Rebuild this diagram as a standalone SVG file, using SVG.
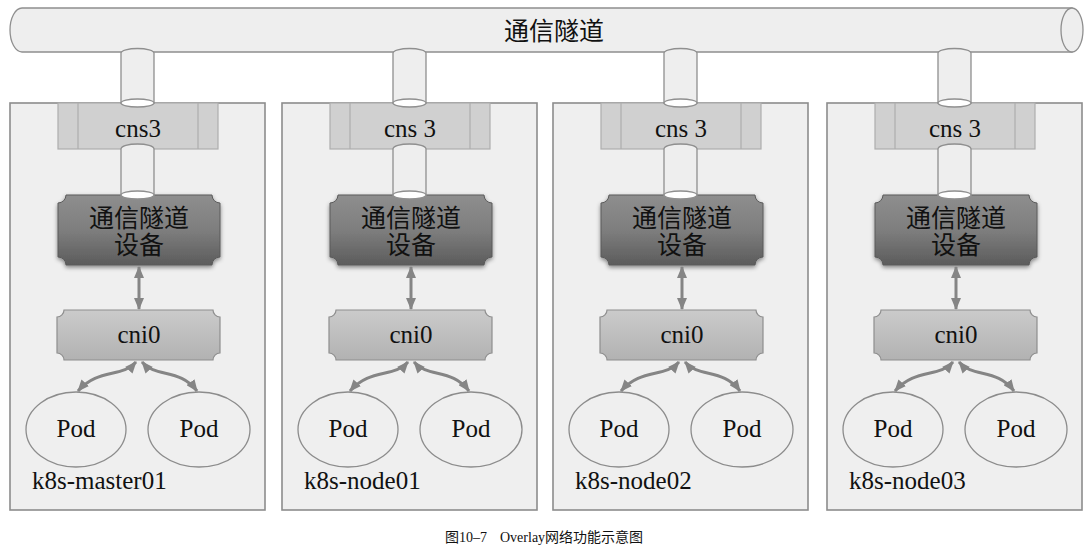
<svg xmlns="http://www.w3.org/2000/svg" width="1086" height="545" viewBox="0 0 1086 545">
<defs>
<style>
.box{fill:#efefef;stroke:#8c8c8c;stroke-width:1.6}
.cns{fill:#d0d0d0;stroke:#adadad;stroke-width:1.2}
.cnsl{stroke:#adadad;stroke-width:1.2}
.pipe{fill:#eeeeee;stroke:#8f8f8f;stroke-width:1.3}
.hole{fill:#ffffff;stroke:#8f8f8f;stroke-width:1.3}
.dev{fill:url(#gDev);stroke:#5a5a5a;stroke-width:1;filter:url(#sh)}
.cni{fill:url(#gCni);stroke:#8e8e8e;stroke-width:1.2}
.pod{fill:#efefef;stroke:#8c8c8c;stroke-width:1.3}
.lat{font-family:"Liberation Serif","Times New Roman",serif;fill:#111}
.cjk{font-family:"Noto Sans CJK SC","Noto Sans CJK JP",sans-serif;fill:#111}
.arr{fill:none;stroke:#858585;stroke-width:3;marker-start:url(#ah);marker-end:url(#ah)}
</style>
<linearGradient id="gDev" x1="0" y1="0" x2="0" y2="1">
<stop offset="0" stop-color="#8e8e8e"/>
<stop offset="0.5" stop-color="#7e7e7e"/>
<stop offset="1" stop-color="#5c5c5c"/>
</linearGradient>
<linearGradient id="gCni" x1="0" y1="0" x2="0" y2="1">
<stop offset="0" stop-color="#cbcbcb"/>
<stop offset="1" stop-color="#b2b2b2"/>
</linearGradient>
<filter id="sh" x="-10%" y="-10%" width="120%" height="130%">
<feDropShadow dx="0" dy="2" stdDeviation="2" flood-color="#000" flood-opacity="0.45"/>
</filter>
<marker id="ah" viewBox="0 0 12 10" refX="11" refY="5" markerWidth="12" markerHeight="10" markerUnits="userSpaceOnUse" orient="auto-start-reverse">
<path d="M0,0 L12,5 L0,10 Z" fill="#858585"/>
</marker>
<g id="nodeTpl">
<rect class="box" x="0" y="103" width="255" height="407"/>
<rect class="cns" x="48" y="103" width="160" height="46"/>
<line class="cnsl" x1="68" y1="103" x2="68" y2="149"/>
<line class="cnsl" x1="188" y1="103" x2="188" y2="149"/>
<path class="dev" d="M56,195 L202,195 A8,8 0 0 0 210,203 L210,257 A8,8 0 0 0 202,265 L56,265 A8,8 0 0 0 48,257 L48,203 A8,8 0 0 0 56,195 Z"/>
<path class="cni" d="M54,310 L203,310 A7,7 0 0 0 210,317 L210,353 A7,7 0 0 0 203,360 L54,360 A7,7 0 0 0 47,353 L47,317 A7,7 0 0 0 54,310 Z"/>
<text class="cjk" x="129" y="227" font-size="25" text-anchor="middle">通信隧道</text>
<text class="cjk" x="129" y="254" font-size="25" text-anchor="middle">设备</text>
<text class="lat" x="129" y="343" font-size="25" text-anchor="middle">cni0</text>
<ellipse class="pod" cx="66" cy="429.5" rx="50" ry="37.5"/>
<ellipse class="pod" cx="189" cy="429.5" rx="51" ry="37.5"/>
<text class="lat" x="66" y="437" font-size="25" text-anchor="middle">Pod</text>
<text class="lat" x="189" y="437" font-size="25" text-anchor="middle">Pod</text>
<path class="pipe" d="M111,53 A16.5,4.5 0 0 1 144,53 L144,103 L111,103 Z"/>
<ellipse class="hole" cx="127.5" cy="103" rx="16.5" ry="4"/>
<path class="pipe" d="M111,149 A16.5,5 0 0 1 144,149 L144,195 L111,195 Z"/>
<ellipse class="hole" cx="127.5" cy="195" rx="16.5" ry="4"/>
</g>
</defs>
<rect x="0" y="0" width="1086" height="545" fill="#ffffff"/>
<g id="tunnel">
<path class="pipe" d="M22,8 L1072,8 L1072,52 L22,52 A12,22 0 0 1 22,8 Z"/>
<ellipse class="pipe" cx="1072" cy="30" rx="11" ry="22"/>
<text class="cjk" x="554" y="40" font-size="25" text-anchor="middle">通信隧道</text>
</g>
<g id="node-master01" transform="translate(10,0)">
<use href="#nodeTpl"/>
<text class="lat" x="128" y="137" font-size="25" text-anchor="middle">cns3</text>
<text class="lat" x="22" y="489" font-size="25">k8s-master01</text>
</g>
<g id="node-node01" transform="translate(282,0)">
<use href="#nodeTpl"/>
<text class="lat" x="128" y="137" font-size="25" text-anchor="middle">cns 3</text>
<text class="lat" x="22" y="489" font-size="25">k8s-node01</text>
</g>
<g id="node-node02" transform="translate(553,0)">
<use href="#nodeTpl"/>
<text class="lat" x="128" y="137" font-size="25" text-anchor="middle">cns 3</text>
<text class="lat" x="22" y="489" font-size="25">k8s-node02</text>
</g>
<g id="node-node03" transform="translate(827,0)">
<use href="#nodeTpl"/>
<text class="lat" x="128" y="137" font-size="25" text-anchor="middle">cns 3</text>
<text class="lat" x="22" y="489" font-size="25">k8s-node03</text>
</g>
<g id="connectors">
<path class="arr" d="M139,267 L139,309"/>
<path class="arr" d="M136,362 C122,378 98,368 78,391"/>
<path class="arr" d="M142,362 C156,378 180,368 197,391"/>
<path class="arr" d="M411,267 L411,309"/>
<path class="arr" d="M408,362 C394,378 370,368 350,391"/>
<path class="arr" d="M414,362 C428,378 452,368 469,391"/>
<path class="arr" d="M682,267 L682,309"/>
<path class="arr" d="M679,362 C665,378 641,368 621,391"/>
<path class="arr" d="M685,362 C699,378 723,368 740,391"/>
<path class="arr" d="M956,267 L956,309"/>
<path class="arr" d="M953,362 C939,378 915,368 895,391"/>
<path class="arr" d="M959,362 C973,378 997,368 1014,391"/>
</g>
<g id="caption">
<text class="cjk" x="445" y="542" font-size="14">图<tspan class="lat">10–7</tspan></text>
<text class="lat" x="500" y="542" font-size="14">Overlay<tspan class="cjk">网络功能示意图</tspan></text>
</g>
</svg>
